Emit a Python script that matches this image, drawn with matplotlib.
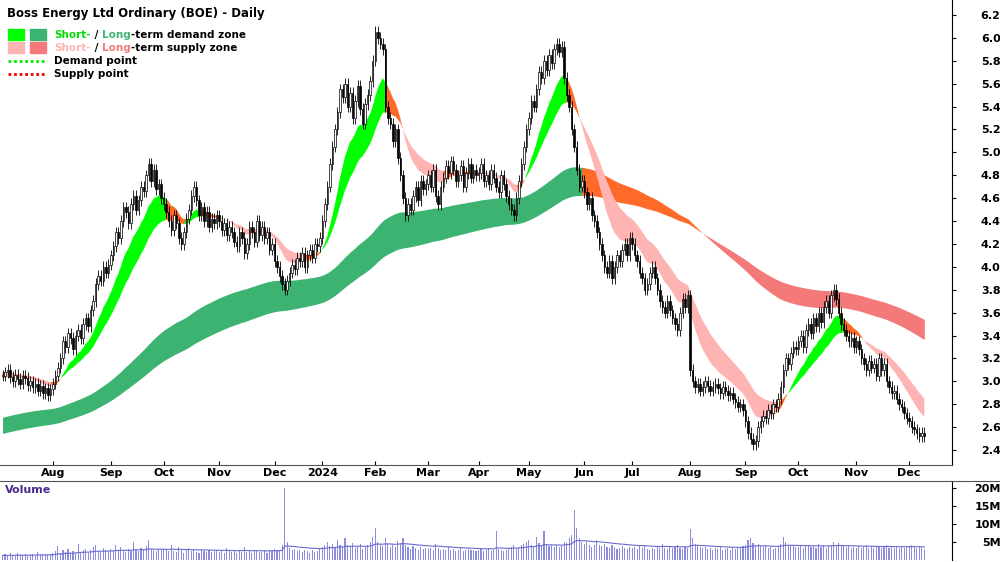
import matplotlib.pyplot as plt
from matplotlib.patches import Rectangle
import numpy as np
import pandas as pd

# daily closes per month (Jul 2023 .. Dec 2024)
closes_by_month = [
    [3.05,3.08,3.10,3.04,3.00,3.06,3.02,2.98,3.05,3.03,2.97,3.00,2.95,2.98,2.92,2.96,2.90,2.94,2.88,2.93],
    [2.98,3.05,3.12,3.20,3.35,3.30,3.42,3.38,3.28,3.40,3.45,3.38,3.50,3.55,3.48,3.62,3.70,3.85,3.92,3.88,4.00,3.95,4.02],
    [4.10,4.18,4.30,4.25,4.40,4.52,4.48,4.38,4.55,4.62,4.50,4.58,4.70,4.66,4.80,4.90,4.75,4.85,4.68,4.72,4.60],
    [4.55,4.48,4.40,4.32,4.45,4.38,4.25,4.20,4.30,4.42,4.50,4.62,4.70,4.58,4.45,4.52,4.40,4.48,4.35,4.42,4.38,4.45],
    [4.40,4.32,4.38,4.28,4.35,4.30,4.22,4.18,4.30,4.25,4.12,4.20,4.35,4.30,4.22,4.40,4.28,4.35,4.25,4.30,4.15,4.20],
    [4.05,4.00,3.92,3.85,3.80,3.88,3.95,4.02,3.98,4.08,4.05,4.12,4.00,4.10,4.15,4.08,4.20,4.18,4.25],
    [4.40,4.55,4.70,4.90,5.05,5.20,5.35,5.55,5.48,5.60,5.40,5.52,5.30,5.45,5.58,5.38,5.25,5.42,5.50,5.62,5.80],
    [6.05,6.00,5.95,5.90,5.40,5.30,5.25,5.10,5.20,4.95,4.80,4.60,4.45,4.55,4.50,4.62,4.70,4.58,4.75,4.68,4.72],
    [4.80,4.70,4.85,4.62,4.55,4.70,4.78,4.88,4.82,4.92,4.85,4.75,4.80,4.88,4.70,4.82,4.90,4.78,4.85,4.80],
    [4.82,4.90,4.75,4.80,4.72,4.85,4.78,4.70,4.65,4.80,4.72,4.62,4.55,4.50,4.45,4.60,4.75,4.90,5.05,5.20],
    [5.30,5.45,5.40,5.55,5.70,5.65,5.80,5.72,5.85,5.78,5.90,5.95,5.88,5.92,5.65,5.50,5.40,5.20,5.05,4.85,4.70,4.75],
    [4.65,4.55,4.60,4.45,4.40,4.30,4.20,4.10,4.00,3.95,4.05,3.90,4.00,4.10,4.05,4.15,4.20,4.10,4.25],
    [4.20,4.10,4.05,3.95,3.90,3.80,3.85,3.95,4.00,3.90,3.80,3.70,3.65,3.60,3.70,3.62,3.55,3.50,3.45,3.60,3.72,3.65,3.75],
    [3.10,3.00,2.95,2.98,2.92,2.95,3.00,2.96,2.92,2.95,2.98,2.94,2.90,2.95,2.92,2.88,2.90,2.85,2.82,2.78,2.80,2.75],
    [2.65,2.55,2.50,2.45,2.48,2.60,2.65,2.70,2.68,2.75,2.72,2.80,2.78,2.85,2.95,3.10,3.20,3.15,3.25,3.30,3.28],
    [3.35,3.40,3.30,3.45,3.50,3.42,3.55,3.48,3.60,3.52,3.65,3.70,3.60,3.75,3.80,3.72,3.60,3.50,3.45,3.40,3.35,3.38,3.30],
    [3.35,3.28,3.20,3.15,3.10,3.18,3.12,3.15,3.05,3.20,3.10,3.15,3.00,2.95,2.90,2.92,2.85,2.80,2.78,2.72,2.68],
    [2.65,2.60,2.58,2.55,2.52,2.55,2.52],
]
# volume in millions, same months
volume_by_month = [
    [1.2,1.5,1.0,1.8,1.3,1.1,2.0,1.4,1.2,1.6,1.0,1.3,1.5,1.1,2.2,1.4,1.2,1.7,1.3,1.5],
    [2.0,2.5,3.8,1.8,2.6,2.2,3.0,2.0,2.4,1.8,4.5,2.2,2.6,3.0,2.0,2.8,3.5,4.0,2.5,2.2,3.2,2.6,2.4],
    [3.0,2.5,4.2,2.8,3.5,2.6,2.2,3.0,2.4,5.0,2.8,2.5,3.2,2.6,3.8,5.5,3.0,2.6,2.4,3.0,2.8],
    [2.6,3.0,2.4,4.0,2.5,2.2,3.5,2.8,2.0,2.6,3.2,2.4,2.8,2.2,2.0,3.0,2.5,2.3,2.8,2.1,2.4,2.6],
    [2.2,2.5,2.0,3.2,2.4,2.1,2.6,2.0,2.8,2.3,3.5,2.2,2.5,2.0,2.4,2.7,2.1,2.3,2.6,2.0,2.8,2.4],
    [3.0,2.6,2.8,4.0,20.0,5.0,3.2,2.8,3.0,2.5,2.6,2.2,2.8,2.4,2.0,2.6,2.3,2.5,3.0],
    [3.5,4.0,5.0,3.8,4.5,3.2,5.5,4.2,3.6,6.0,4.0,3.5,4.8,3.2,3.8,4.4,3.0,3.6,4.2,5.0,6.5],
    [9.0,5.0,4.2,3.8,6.0,4.5,3.6,4.0,3.5,5.2,4.8,6.0,4.2,3.5,3.0,3.8,3.2,2.8,3.5,3.0,3.2],
    [3.0,3.4,2.8,4.5,3.2,2.6,3.0,2.8,3.5,2.6,3.0,2.4,2.8,3.2,2.5,2.7,3.0,2.6,2.8,2.5],
    [2.6,3.0,2.5,2.8,3.4,2.4,2.7,8.0,3.0,2.6,2.5,2.8,3.2,3.5,4.2,3.0,3.6,4.0,4.5,5.0],
    [5.5,4.2,3.8,6.5,4.8,4.0,8.0,4.5,3.8,4.2,3.6,4.0,3.5,3.8,5.0,4.6,6.0,7.0,14.0,9.0,6.0,5.0],
    [4.5,5.0,4.0,3.6,4.2,5.5,4.0,3.8,4.5,3.6,3.2,4.0,3.5,3.0,3.4,3.8,3.2,3.0,3.5],
    [3.2,3.5,3.0,3.8,3.2,4.0,3.0,2.8,3.4,3.0,3.6,3.2,4.5,3.4,3.0,3.8,3.2,3.6,4.0,3.4,3.0,3.5,3.2],
    [8.5,6.0,4.5,3.8,3.5,3.2,3.6,3.0,3.4,2.8,3.2,3.0,3.5,2.8,3.0,3.4,2.6,3.2,3.0,3.6,3.2,3.8],
    [4.0,5.5,6.0,4.8,4.2,4.5,3.8,3.5,4.0,3.2,3.6,3.0,3.4,3.8,4.5,6.5,5.0,4.2,4.0,3.8,3.5],
    [3.6,4.0,3.4,3.8,4.2,3.5,3.8,3.2,4.5,3.6,4.0,3.4,3.8,4.2,5.0,4.0,4.6,3.8,4.2,3.5,3.8,3.4,3.6],
    [3.4,3.8,3.2,3.6,4.0,3.4,3.6,3.2,3.8,3.5,3.2,3.6,4.2,3.4,3.8,3.2,3.6,3.4,3.8,3.2,3.6],
    [3.8,4.2,3.6,3.4,3.8,3.2,3.0],
]
month_labels = ["Aug", "Sep", "Oct", "Nov", "Dec", "2024", "Feb", "Mar", "Apr", "May",
                "Jun", "Jul", "Aug", "Sep", "Oct", "Nov", "Dec"]
# starting levels of the zone edges
long_start = [2.68, 2.54]
short_start = [3.02, 3.08]

close = np.concatenate(closes_by_month)
vol = np.concatenate(volume_by_month)
n = len(close)
x = np.arange(n)
opn = np.r_[close[0], close[:-1]]
high = np.maximum(opn, close) + 0.05
low = np.minimum(opn, close) - 0.05
month_starts = np.cumsum([len(m) for m in closes_by_month])[:-1]

def ema(vals, span, start=None):
    s = pd.Series(vals)
    if start is not None:
        s = pd.concat([pd.Series([start]), s], ignore_index=True)
    out = s.ewm(span=span, adjust=False).mean().values
    return out[1:] if start is not None else out

def zone(ax, fast, slow, c_up, c_mid, c_down):
    slope = np.gradient(slow)
    state = np.where((fast >= slow) & (slope >= 0), 0, np.where((fast < slow) & (slope < 0), 2, 1))
    cols = [c_up, c_mid, c_down]
    for k in range(3):
        m = state == k
        m = m | np.r_[m[1:], False]
        ax.fill_between(x, fast, slow, where=m, color=cols[k], lw=0, interpolate=True)

fig = plt.figure(figsize=(10, 5.62), dpi=100)
ax = fig.add_axes([0, 0.1726, 0.952, 0.8274])
axv = fig.add_axes([0, 0.004, 0.952, 0.14])

s_fast, s_slow = ema(close, 14, short_start[0]), ema(close, 27, short_start[1])
l_fast, l_slow = ema(close, 130, long_start[0]), ema(close, 190, long_start[1])
zone(ax, l_fast, l_slow, "#3cb371", "#ff6a28", "#f47a7a")
zone(ax, s_fast, s_slow, "#00ff00", "#ff6a28", "#ffb4b4")

up = close >= opn
ax.vlines(x, low, high, color="black", lw=0.6, zorder=3)
ax.bar(x[up], np.maximum(close - opn, 0.01)[up], bottom=opn[up], width=0.6,
       color="white", edgecolor="black", lw=0.5, zorder=4)
ax.bar(x[~up], (opn - close)[~up], bottom=close[~up], width=0.6,
       color="black", edgecolor="black", lw=0.5, zorder=4)

ax.set_xlim(-1, 377)
ax.set_ylim(2.27, 6.33)
ax.yaxis.tick_right()
ax.set_yticks(np.arange(2.4, 6.21, 0.2))
ax.set_yticklabels([f"{v:.1f}" for v in np.arange(2.4, 6.21, 0.2)])
ax.set_xticks(month_starts)
ax.set_xticklabels(month_labels)
ax.tick_params(axis="y", labelsize=8, length=3, pad=32)
ax.tick_params(axis="x", labelsize=8, length=3, direction="in", pad=2)
for lab in ax.get_xticklabels() + ax.get_yticklabels():
    lab.set_fontweight("bold")
for lab in ax.get_yticklabels():
    lab.set_horizontalalignment("right")
for sp in ["top", "left"]:
    ax.spines[sp].set_visible(False)
ax.spines["bottom"].set_color("#555555")

ax.text(0.007, 0.985, "Boss Energy Ltd Ordinary (BOE) - Daily", transform=ax.transAxes,
        fontsize=8.5, fontweight="bold", va="top")
# legend
lx, ly, dy = 0.008, 0.925, 0.028
for i, (c1, c2, w1, w2) in enumerate([("#00ff00", "#3cb371", "#00dd00", "#3cb371"),
                                      ("#ffb4b4", "#f47a7a", "#ffb4b4", "#f47a7a")]):
    yy = ly - i * dy
    ax.add_patch(Rectangle((lx, yy - 0.01), 0.017, 0.022, color=c1, transform=ax.transAxes))
    ax.add_patch(Rectangle((lx + 0.023, yy - 0.01), 0.017, 0.022, color=c2, transform=ax.transAxes))
    t1 = ax.text(0.057, yy, "Short-", color=w1, fontsize=7.5, fontweight="bold", va="center", transform=ax.transAxes)
    t2 = ax.annotate(" / ", xycoords=t1, xy=(1, 0), va="bottom", fontsize=7.5, fontweight="bold")
    t3 = ax.annotate("Long", xycoords=t2, xy=(1, 0), va="bottom", fontsize=7.5, fontweight="bold", color=w2)
    ax.annotate("-term demand zone" if i == 0 else "-term supply zone", xycoords=t3, xy=(1, 0),
                va="bottom", fontsize=7.5, fontweight="bold")
for i, (c, t) in enumerate([("#00ee00", "Demand point"), ("#ee0000", "Supply point")]):
    yy = ly - (i + 2) * dy
    ax.plot([lx, lx + 0.04], [yy, yy], ls=(0, (1, 1)), lw=2, color=c, transform=ax.transAxes)
    ax.text(0.057, yy, t, fontsize=7.5, fontweight="bold", va="center", transform=ax.transAxes)

axv.bar(x, vol, width=0.45, color="#8c8ce0", lw=0)
axv.plot(x, ema(vol, 30), color="#6a6acc", lw=0.8)
axv.set_xlim(-1, 377)
axv.set_ylim(0, 22)
axv.yaxis.tick_right()
axv.set_yticks([5, 10, 15, 20])
axv.set_yticklabels(["5M", "10M", "15M", "20M"])
axv.tick_params(axis="y", labelsize=8, length=3, pad=32)
for lab in axv.get_yticklabels():
    lab.set_fontweight("bold")
    lab.set_horizontalalignment("right")
axv.set_xticks([])
for sp in ["top", "left", "bottom"]:
    axv.spines[sp].set_visible(False)
axv.text(0.005, 0.95, "Volume", transform=axv.transAxes, fontsize=8, fontweight="bold",
         color="#4b2a8c", va="top")
fig.add_artist(plt.Line2D([0, 1], [0.1448, 0.1448], color="#555555", lw=0.8))

fig.savefig("out.png", dpi=100)
